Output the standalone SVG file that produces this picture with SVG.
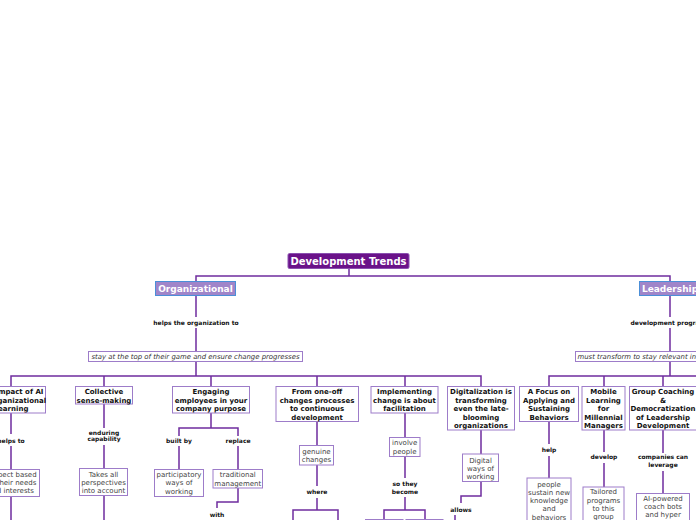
<svg xmlns="http://www.w3.org/2000/svg" width="696" height="520" viewBox="0 0 696 520">
<style>
text{font-family:"DejaVu Sans",Verdana,sans-serif}
.c{fill:none;stroke:#6f2d9e;stroke-width:1.5}
.n{fill:#fff;stroke:#9d7cc9;stroke-width:1}
.t{font-size:7px;font-weight:bold;fill:#111;text-anchor:middle}
.r{font-size:7px;fill:#444;text-anchor:middle}
.l{font-size:6px;font-weight:bold;fill:#111;text-anchor:middle}
.i{font-size:6.9px;font-style:italic;fill:#333}
.m{fill:#a085c9;stroke:#4b8fd8;stroke-width:1}
.mt{font-size:9px;font-weight:bold;fill:#fff;text-anchor:middle}
</style>
<rect width="696" height="520" fill="#fff"/>
<g id="connectors">
<path class="c" d="M349,268 V276 M196,281 V276 H670 V281"/>
<path class="c" d="M196,296 V317 M196,328 V352 M196,362 V376 M11,386 V376 H481 V386 M104,376 V386 M211,376 V386 M317,376 V386 M405,376 V386"/>
<path class="c" d="M670,296 V317 M670,328 V352 M670,362 V376 M549,386 V376 H700 M604,376 V386 M663,376 V386"/>
<path class="c" d="M11,413 V434 M11,446 V469 M11,497 V520"/>
<path class="c" d="M104,404 V428 M104,445 V468 M104,496 V520"/>
<path class="c" d="M211,413 V428 M179,436 V428 H238 V436 M179,446 V469 M238,446 V469 M238,488 V502 H217 V508"/>
<path class="c" d="M317,421 V445 M317,465 V486 M317,498 V510 M293,521 V510 H338 V521"/>
<path class="c" d="M405,413 V437 M405,457 V478 M405,497 V510 M384,520 V510 H425 V520"/>
<path class="c" d="M481,430 V454 M481,482 V496 H461 V503 M455,515 V521"/>
<path class="c" d="M549,421 V444 M549,456 V478"/>
<path class="c" d="M604,430 V452 M604,463 V487"/>
<path class="c" d="M663,430 V453 M663,471 V493"/>
</g>
<g id="root">
<rect x="288" y="253.5" width="121" height="15" rx="1.5" fill="#6a1289" stroke="#8a4fb0" stroke-width="1"/>
<text x="348.5" y="264.5" font-size="10" font-weight="bold" fill="#fff" text-anchor="middle">Development Trends</text>
</g>
<g id="organizational">
<rect class="m" x="155.5" y="281.5" width="80" height="14"/>
<text class="mt" x="195.5" y="291.8">Organizational</text>
</g>
<g id="leadership">
<rect class="m" x="639.5" y="281.5" width="62" height="14"/>
<text class="mt" x="670" y="291.8">Leadership</text>
</g>
<g id="labels">
<text class="l" x="196" y="324.5">helps the organization to</text>
<text class="l" x="670" y="324.5">development programs</text>
<text class="l" x="11" y="442.5">helps to</text>
<text class="l" x="104" y="434.7">enduring</text>
<text class="l" x="104" y="441.3">capability</text>
<text class="l" x="179" y="442.7">built by</text>
<text class="l" x="238" y="442.7">replace</text>
<text class="l" x="217" y="517">with</text>
<text class="l" x="317" y="494.3">where</text>
<text class="l" x="405" y="485.7">so they</text>
<text class="l" x="405" y="493.7">become</text>
<text class="l" x="461" y="512">allows</text>
<text class="l" x="549" y="452">help</text>
<text class="l" x="604" y="459.3">develop</text>
<text class="l" x="663" y="459.3">companies can</text>
<text class="l" x="663" y="467">leverage</text>
</g>
<g id="org-purpose">
<rect class="n" x="88.5" y="351.5" width="214" height="10"/>
<text class="i" x="195.5" y="359.2" text-anchor="middle">stay at the top of their game and ensure change progresses</text>
</g>
<g id="lead-purpose">
<rect class="n" x="575.5" y="351.5" width="140" height="10"/>
<text class="i" x="577.5" y="359.2">must transform to stay relevant in</text>
</g>
<g id="impact-ai">
<rect class="n" x="-24.5" y="386.5" width="70" height="26.5"/>
<text class="t" x="11" y="394.3"><tspan x="11">The Impact of AI</tspan><tspan x="11" dy="8.5">on Organizational</tspan><tspan x="11" dy="8.5">Learning</tspan></text>
</g>
<g id="collective">
<rect class="n" x="75.5" y="386.5" width="57" height="17.5"/>
<text class="t" x="104" y="394.3"><tspan x="104">Collective</tspan><tspan x="104" dy="8.5">sense-making</tspan></text>
</g>
<g id="engaging">
<rect class="n" x="172.5" y="386.5" width="77" height="26.5"/>
<text class="t" x="211" y="394.3"><tspan x="211">Engaging</tspan><tspan x="211" dy="8.5">employees in your</tspan><tspan x="211" dy="8.5">company purpose</tspan></text>
</g>
<g id="one-off">
<rect class="n" x="276" y="386.5" width="82.5" height="35"/>
<text class="t" x="317" y="394.3"><tspan x="317">From one-off</tspan><tspan x="317" dy="8.5">changes processes</tspan><tspan x="317" dy="8.5">to continuous</tspan><tspan x="317" dy="8.5">development</tspan></text>
</g>
<g id="implementing">
<rect class="n" x="371" y="386.5" width="67" height="26.5"/>
<text class="t" x="404.5" y="394.3"><tspan x="404.5">Implementing</tspan><tspan x="404.5" dy="8.5">change is about</tspan><tspan x="404.5" dy="8.5">facilitation</tspan></text>
</g>
<g id="digitalization">
<rect class="n" x="447.5" y="386.5" width="67" height="43.5"/>
<text class="t" x="481" y="394.3"><tspan x="481">Digitalization is</tspan><tspan x="481" dy="8.5">transforming</tspan><tspan x="481" dy="8.5">even the late-</tspan><tspan x="481" dy="8.5">blooming</tspan><tspan x="481" dy="8.5">organizations</tspan></text>
</g>
<g id="focus">
<rect class="n" x="519.5" y="386.5" width="59" height="35"/>
<text class="t" x="549" y="394.3"><tspan x="549">A Focus on</tspan><tspan x="549" dy="8.5">Applying and</tspan><tspan x="549" dy="8.5">Sustaining</tspan><tspan x="549" dy="8.5">Behaviors</tspan></text>
</g>
<g id="mobile">
<rect class="n" x="582" y="386.5" width="43" height="43.5"/>
<text class="t" x="603.5" y="394.3"><tspan x="603.5">Mobile</tspan><tspan x="603.5" dy="8.5">Learning</tspan><tspan x="603.5" dy="8.5">for</tspan><tspan x="603.5" dy="8.5">Millennial</tspan><tspan x="603.5" dy="8.5">Managers</tspan></text>
</g>
<g id="group-coaching">
<rect class="n" x="629.5" y="386.5" width="67" height="43.5"/>
<text class="t" x="663" y="394.3"><tspan x="663">Group Coaching</tspan><tspan x="663" dy="8.5">&amp;</tspan><tspan x="663" dy="8.5">Democratization</tspan><tspan x="663" dy="8.5">of Leadership</tspan><tspan x="663" dy="8.5">Development</tspan></text>
</g>
<g id="respect">
<rect class="n" x="-18.5" y="469.5" width="58" height="27"/>
<text class="r" x="11" y="476.8"><tspan x="11">Respect based</tspan><tspan x="11" dy="8.3">on their needs</tspan><tspan x="11" dy="8.3">and interests</tspan></text>
</g>
<g id="takes-all">
<rect class="n" x="79.5" y="468.5" width="48" height="27"/>
<text class="r" x="103.5" y="476.5"><tspan x="103.5">Takes all</tspan><tspan x="103.5" dy="8.3">perspectives</tspan><tspan x="103.5" dy="8.3">into account</tspan></text>
</g>
<g id="participatory">
<rect class="n" x="154.5" y="469.5" width="49" height="27"/>
<text class="r" x="179" y="476.8"><tspan x="179">participatory</tspan><tspan x="179" dy="8.5">ways of</tspan><tspan x="179" dy="8.5">working</tspan></text>
</g>
<g id="traditional">
<rect class="n" x="213" y="469.5" width="49.5" height="18.5"/>
<text class="r" x="237.8" y="476.8"><tspan x="237.8">traditional</tspan><tspan x="237.8" dy="8.8">management</tspan></text>
</g>
<g id="genuine">
<rect class="n" x="299.5" y="445.5" width="34" height="19.5"/>
<text class="r" x="316.5" y="454.2"><tspan x="316.5">genuine</tspan><tspan x="316.5" dy="7.7">changes</tspan></text>
</g>
<g id="involve">
<rect class="n" x="389.5" y="437.5" width="30.5" height="19"/>
<text class="r" x="404.7" y="445.2"><tspan x="404.7">involve</tspan><tspan x="404.7" dy="9">people</tspan></text>
</g>
<g id="digital-ways">
<rect class="n" x="462.5" y="454" width="36" height="27.5"/>
<text class="r" x="480.5" y="462.5"><tspan x="480.5">Digital</tspan><tspan x="480.5" dy="8.2">ways of</tspan><tspan x="480.5" dy="7.8">working</tspan></text>
</g>
<g id="people">
<rect class="n" x="527" y="478" width="44" height="50"/>
<text class="r" x="549" y="486.5"><tspan x="549">people</tspan><tspan x="549" dy="8.3">sustain new</tspan><tspan x="549" dy="8.3">knowledge</tspan><tspan x="549" dy="8.3">and</tspan><tspan x="549" dy="8.3">behaviors</tspan></text>
</g>
<g id="tailored">
<rect class="n" x="583" y="487" width="41" height="40"/>
<text class="r" x="603.5" y="494.2"><tspan x="603.5">Tailored</tspan><tspan x="603.5" dy="8.3">programs</tspan><tspan x="603.5" dy="8.3">to this</tspan><tspan x="603.5" dy="8.3">group</tspan></text>
</g>
<g id="ai-powered">
<rect class="n" x="636.5" y="493.5" width="53" height="35"/>
<text class="r" x="663" y="500.8"><tspan x="663">AI-powered</tspan><tspan x="663" dy="8.3">coach bots</tspan><tspan x="663" dy="8.3">and hyper</tspan></text>
</g>
<g id="become-1">
<rect class="n" x="365.5" y="519.5" width="37.5" height="10"/>
</g>
<g id="become-2">
<rect class="n" x="406" y="519.5" width="37" height="10"/>
</g>
</svg>
